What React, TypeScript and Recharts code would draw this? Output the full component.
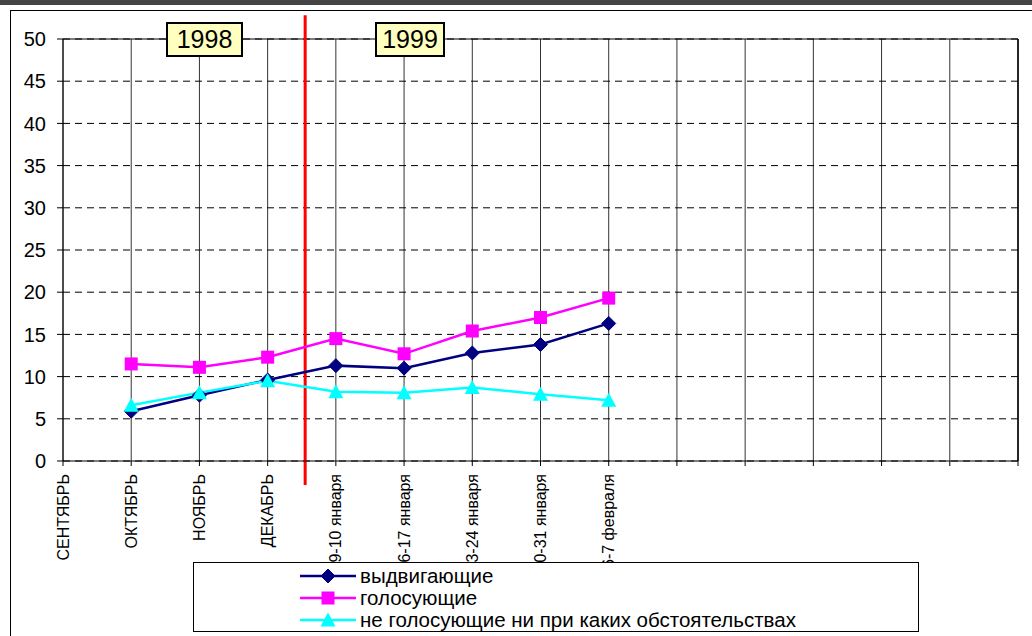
import { LineChart, Line, XAxis, YAxis, CartesianGrid, ReferenceLine, Legend } from 'recharts'

const categories = [
    'СЕНТЯБРЬ', 'ОКТЯБРЬ', 'НОЯБРЬ', 'ДЕКАБРЬ',
    '9-10 января', '16-17 января', '23-24 января', '30-31 января', '6-7 февраля',
    '', '', '', '', '', '',
]
const nominating = [null, 5.9, 7.8, 9.6, 11.3, 11.0, 12.8, 13.8, 16.3]
const voting = [null, 11.5, 11.1, 12.3, 14.5, 12.7, 15.4, 17.0, 19.3]
const notVoting = [null, 6.6, 8.1, 9.5, 8.2, 8.1, 8.7, 7.9, 7.2]
const yTicks = [0, 5, 10, 15, 20, 25, 30, 35, 40, 45, 50]
const years = ['1998', '1999']
// the red separator sits between ДЕКАБРЬ and the first January poll
const yearBreak = 3.55

const series = [
    { key: 'a', name: 'выдвигающие', color: '#000080', shape: 'diamond' },
    { key: 'b', name: 'голосующие', color: '#FF00FF', shape: 'square' },
    { key: 'c', name: 'не голосующие ни при каких обстоятельствах', color: '#00FFFF', shape: 'triangle' },
]

const data = categories.map((label, i) => ({
    i,
    label,
    a: nominating[i] ?? null,
    b: voting[i] ?? null,
    c: notVoting[i] ?? null,
}))

const FONT = 'Arial, "Liberation Sans", sans-serif'

function Marker({ cx, cy, shape, color }: { cx: number; cy: number; shape: string; color: string }) {
    if (shape === 'diamond') {
        return <polygon points={`${cx},${cy - 7} ${cx + 7},${cy} ${cx},${cy + 7} ${cx - 7},${cy}`} fill={color} stroke={color} />
    }
    if (shape === 'square') {
        return <rect x={cx - 6.5} y={cy - 6.5} width={13} height={13} fill={color} />
    }
    return <polygon points={`${cx},${cy - 7.5} ${cx + 7.5},${cy + 6.5} ${cx - 7.5},${cy + 6.5}`} fill={color} />
}

function makeDot(shape: string, color: string) {
    return (props: any) => {
        const { cx, cy, index } = props
        if (cx == null || cy == null || props.value == null) return <g key={`d-${shape}-${index}`} />
        return <Marker key={`d-${shape}-${index}`} cx={cx} cy={cy} shape={shape} color={color} />
    }
}

function XTick({ x, y, payload }: any) {
    const text = categories[payload.value] ?? ''
    const ty = y + 6
    return (
        <text
            x={x}
            y={ty}
            transform={`rotate(-90, ${x}, ${ty})`}
            textAnchor="end"
            dominantBaseline="central"
            fontSize={16}
            fontFamily={FONT}
            fill="#000"
        >
            {text}
        </text>
    )
}

function LegendBox() {
    return (
        <div
            style={{
                width: 724,
                height: 66,
                background: '#fff',
                border: '1px solid #000',
                fontFamily: FONT,
                fontSize: 20.5,
                paddingTop: 2,
                boxSizing: 'content-box',
            }}
        >
            {series.map((s) => (
                <div key={s.key} style={{ display: 'flex', alignItems: 'center', height: 22, lineHeight: '22px' }}>
                    <svg width={166} height={20} style={{ flex: 'none' }}>
                        <line x1={106} x2={162} y1={10} y2={10} stroke={s.color} strokeWidth={2.5} />
                        <Marker cx={134} cy={10} shape={s.shape} color={s.color} />
                    </svg>
                    <span style={{ whiteSpace: 'nowrap' }}>{s.name}</span>
                </div>
            ))}
        </div>
    )
}

function YearBox({ text, left, width }: { text: string; left: number; width: number }) {
    return (
        <div
            style={{
                position: 'absolute',
                left,
                top: 22,
                width,
                height: 35,
                boxSizing: 'border-box',
                border: '2px solid #000',
                background: '#FFFFC0',
                fontFamily: FONT,
                fontSize: 25,
                lineHeight: '31px',
                textAlign: 'center',
            }}
        >
            {text}
        </div>
    )
}

export default function App() {
    return (
        <div style={{ position: 'absolute', left: 0, top: 0, width: 1032, height: 636, overflow: 'hidden', background: '#fff' }}>
            {/* page ruler remnant and the chart frame */}
            <div style={{ position: 'absolute', left: 0, top: 0, width: 1032, height: 5, background: '#444' }} />
            <div style={{ position: 'absolute', left: 10, top: 10, width: 1100, height: 700, border: '1px solid #000' }} />

            <div style={{ position: 'absolute', left: 0, top: 0 }}>
                <LineChart width={1032} height={636} data={data} margin={{ top: 39, right: 14, left: 0, bottom: 75 }}>
                    <CartesianGrid horizontal={false} stroke="#333" strokeWidth={1} />
                    <CartesianGrid vertical={false} stroke="#000" strokeDasharray="7 5" />
                    <XAxis
                        dataKey="i"
                        type="number"
                        domain={[0, 14]}
                        ticks={categories.map((_, i) => i)}
                        interval={0}
                        height={100}
                        tick={<XTick />}
                        tickSize={5}
                        axisLine={{ stroke: '#000' }}
                        tickLine={{ stroke: '#000' }}
                    />
                    <YAxis
                        domain={[0, 50]}
                        ticks={yTicks}
                        interval={0}
                        width={63}
                        tickSize={6}
                        tickMargin={11}
                        axisLine={{ stroke: '#000' }}
                        tickLine={{ stroke: '#000' }}
                        tick={{ fill: '#000', fontSize: 20, fontFamily: FONT }}
                    />
                    <ReferenceLine y={50} stroke="#000" />
                    <ReferenceLine x={14} stroke="#000" strokeWidth={1.5} />
                    <ReferenceLine
                        segment={[{ x: yearBreak, y: -2.85 }, { x: yearBreak, y: 52.8 }]}
                        ifOverflow="visible"
                        stroke="#FF0000"
                        strokeWidth={3}
                    />
                    {series.map((s) => (
                        <Line
                            key={s.key}
                            type="linear"
                            dataKey={s.key}
                            name={s.name}
                            stroke={s.color}
                            strokeWidth={2.5}
                            dot={makeDot(s.shape, s.color)}
                            activeDot={false}
                            isAnimationActive={false}
                        />
                    ))}
                    <Legend
                        layout="vertical"
                        align="center"
                        verticalAlign="middle"
                        content={<LegendBox />}
                        wrapperStyle={{ position: 'absolute', left: 193, top: 562, width: 726, height: 70, margin: 0 }}
                    />
                </LineChart>
            </div>

            <YearBox text={years[0]} left={166} width={77} />
            <YearBox text={years[1]} left={375} width={70} />
        </div>
    )
}
